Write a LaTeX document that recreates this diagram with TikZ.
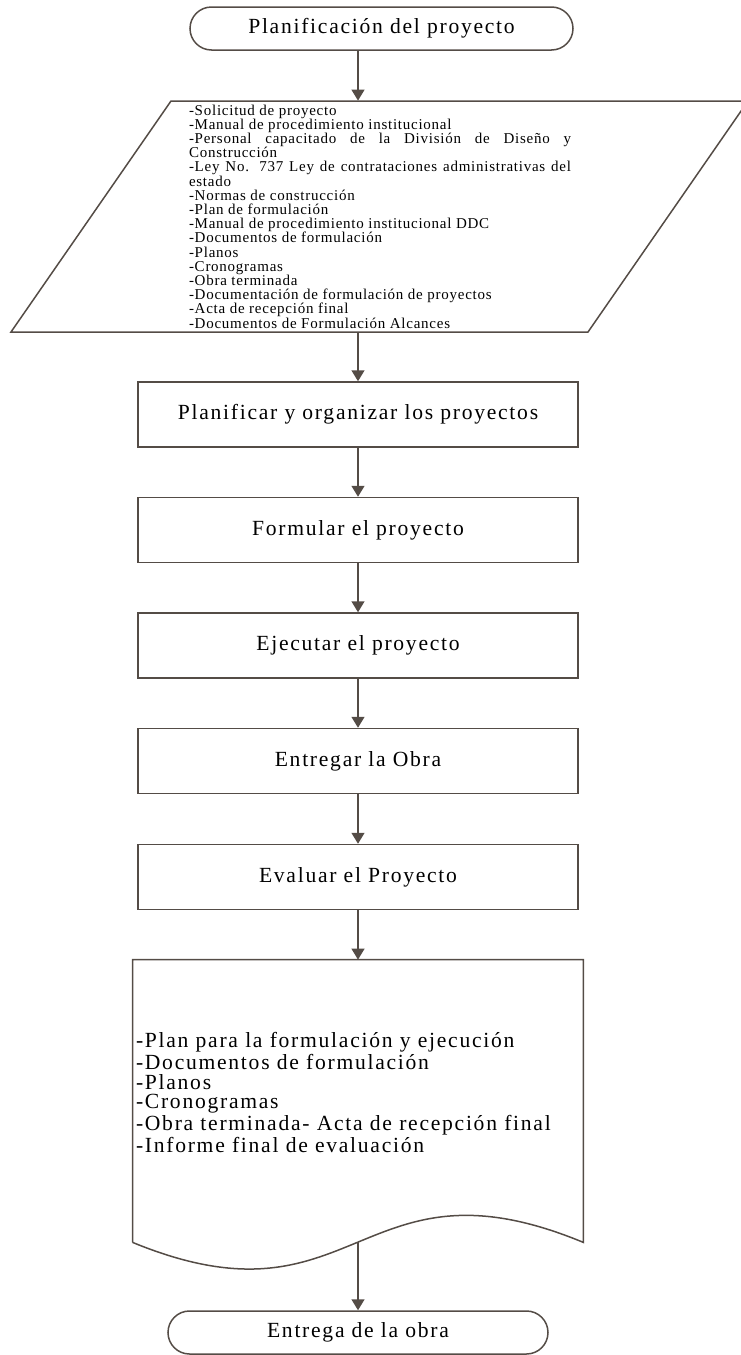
\documentclass[tikz,border=0pt]{standalone}
\usepackage{fontspec}
\setmainfont{Liberation Serif}
\newfontfamily\tnr[LetterSpace=8,Ligatures=CommonOff]{Liberation Serif}
\newfontfamily\tnrchica[LetterSpace=5,Ligatures=CommonOff]{Liberation Serif}
\usepackage{tikz}
\usetikzlibrary{arrows.meta}
\usetikzlibrary{positioning}
\definecolor{linea}{RGB}{84,76,70}

\tikzset{
  contorno/.style={draw=linea,line width=0.75pt},
  terminal/.style={rectangle,contorno,rounded corners=10.75pt,minimum width=191.5pt,
    minimum height=21.5pt,inner sep=0pt,font=\tnr\fontsize{10.8}{12}\selectfont},
  proceso/.style={rectangle,contorno,minimum width=220pt,minimum height=32.5pt,
    inner sep=0pt,font=\tnr\fontsize{10.8}{12}\selectfont},
  entradas/.style={rectangle,minimum height=115.5pt,text width=191pt,inner sep=0pt,
    align=justify,font=\tnrchica\fontsize{7.5}{7.1}\selectfont},
  documento/.style={rectangle,minimum width=225pt,minimum height=141pt,inner sep=0pt},
  lista/.style={rectangle,text width=222pt,inner sep=0pt,align=left,
    font=\tnr\fontsize{10.8}{9.9}\selectfont},
  flecha/.style={contorno,-{Triangle[length=5.5pt,width=6.5pt]}}
}

\begin{document}
\begin{tikzpicture}[x=0.5pt,y=-0.5pt]
  \useasboundingbox (0,0) rectangle (740,1355);
  \path
  (381.5,28.5) node(inicio) [terminal] {Planificación del proyecto}
  (380,216.5) node(insumos) [entradas] {-Solicitud de proyecto\\
    -Manual de procedimiento institucional\\
    -Personal capacitado de la División de Diseño y\linebreak
    Construcción\\
    -Ley No. 737 Ley de contrataciones administrativas del\linebreak
    estado\\
    -Normas de construcción\\
    -Plan de formulación\\
    -Manual de procedimiento institucional DDC\\
    -Documentos de formulación\\
    -Planos\\
    -Cronogramas\\
    -Obra terminada\\
    -Documentación de formulación de proyectos\\
    -Acta de recepción final\\
    -Documentos de Formulación Alcances}
  (358,414.5) node(planif) [proceso] {Planificar y organizar los proyectos}
  (358,530) node(formular) [proceso] {Formular el proyecto}
  (358,645.5) node(ejecutar) [proceso] {Ejecutar el proyecto}
  (358,761) node(entregar) [proceso] {Entregar la Obra}
  (358,877) node(evaluar) [proceso] {Evaluar el Proyecto}
  (358,1101) node(salidas) [documento] {}
  (358,1092.5) node(listasal) [lista] {-Plan para la formulación y ejecución\\
    -Documentos de formulación\\
    -Planos\\
    -Cronogramas\\
    -Obra terminada- Acta de recepción final\\
    -Informe final de evaluación}
  (358,1332.5) node(fin) [terminal,minimum width=190pt] {Entrega de la obra};

  % paralelogramo de entradas
  \draw[contorno] (11,332) -- (588,332) -- (748,101) -- (171,101) -- cycle;
  % documento con borde ondulado
  \draw[contorno] (salidas.south west) -- (salidas.north west) -- (salidas.north east)
    -- (salidas.south east) .. controls (358,1149) and (358,1335) .. (salidas.south west);

  \draw
  (inicio.south -| planif) edge[flecha] (insumos.north -| planif)
  (insumos.south -| planif) edge[flecha] (planif)
  (planif) edge[flecha] (formular)
  (formular) edge[flecha] (ejecutar)
  (ejecutar) edge[flecha] (entregar)
  (entregar) edge[flecha] (evaluar)
  (evaluar) edge[flecha] (salidas)
  (salidas.south) edge[flecha] (fin);
\end{tikzpicture}
\end{document}
